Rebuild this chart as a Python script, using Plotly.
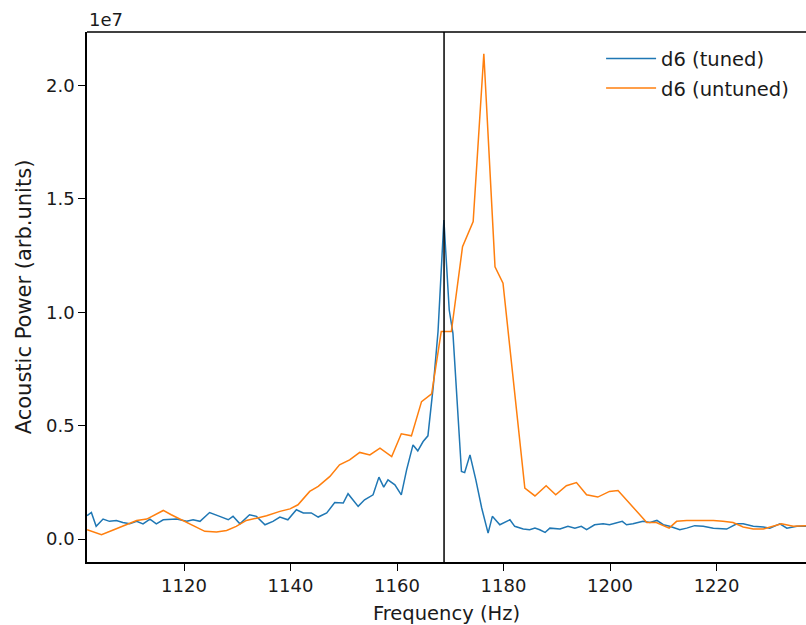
import plotly.graph_objects as go

# Frequency axis (Hz) and acoustic power for the tuned d6 sample
tuned_freq = [1101.8, 1102.6, 1103.5, 1104.8, 1106.0, 1107.3, 1108.5, 1109.8, 1111.1, 1112.3,
              1113.6, 1114.8, 1116.1, 1118.6, 1120.5, 1121.7, 1123.0, 1124.8, 1126.7, 1128.3,
              1129.2, 1130.5, 1132.3, 1133.6, 1135.2, 1136.7, 1138.0, 1139.5, 1141.1, 1142.4,
              1143.9, 1145.2, 1146.8, 1148.3, 1149.9, 1150.8, 1151.7, 1152.7, 1153.9, 1155.5,
              1156.6, 1157.5, 1158.3, 1159.6, 1160.8, 1161.8, 1163.0, 1163.9, 1164.9, 1165.8,
              1166.8, 1167.7, 1168.8, 1169.8, 1170.5, 1172.1, 1172.7, 1173.7, 1174.8, 1175.9,
              1177.1, 1177.9, 1179.3, 1181.2, 1182.1, 1183.7, 1184.9, 1185.9, 1186.8, 1187.8,
              1188.7, 1190.6, 1192.1, 1193.4, 1194.6, 1195.6, 1197.1, 1198.7, 1199.9, 1201.2,
              1202.3, 1203.1, 1204.3, 1206.2, 1207.5, 1208.8, 1210.0, 1211.2, 1213.1, 1214.4,
              1215.9, 1217.5, 1219.4, 1221.9, 1223.8, 1225.0, 1226.9, 1228.8, 1230.0, 1231.9,
              1233.2, 1235.1, 1236.8]
tuned_power = [1.03e6, 1.17e6, 0.56e6, 0.88e6, 0.78e6, 0.82e6, 0.73e6, 0.67e6, 0.78e6, 0.67e6,
               0.88e6, 0.67e6, 0.85e6, 0.88e6, 0.78e6, 0.85e6, 0.78e6, 1.17e6, 1.00e6, 0.85e6,
               1.00e6, 0.67e6, 1.07e6, 1.00e6, 0.63e6, 0.78e6, 0.97e6, 0.85e6, 1.29e6, 1.15e6,
               1.15e6, 0.97e6, 1.15e6, 1.61e6, 1.59e6, 2.00e6, 1.73e6, 1.44e6, 1.73e6, 1.95e6,
               2.73e6, 2.29e6, 2.61e6, 2.39e6, 1.95e6, 3.05e6, 4.15e6, 3.89e6, 4.30e6, 4.55e6,
               6.72e6, 9.15e6, 14.07e6, 10.10e6, 9.07e6, 2.98e6, 2.93e6, 3.71e6, 2.61e6, 1.37e6,
               0.26e6, 1.00e6, 0.63e6, 0.85e6, 0.56e6, 0.44e6, 0.41e6, 0.48e6, 0.41e6, 0.29e6,
               0.48e6, 0.44e6, 0.56e6, 0.48e6, 0.56e6, 0.41e6, 0.63e6, 0.67e6, 0.63e6, 0.70e6,
               0.78e6, 0.63e6, 0.67e6, 0.78e6, 0.73e6, 0.82e6, 0.63e6, 0.56e6, 0.41e6, 0.48e6,
               0.59e6, 0.56e6, 0.48e6, 0.44e6, 0.67e6, 0.67e6, 0.56e6, 0.53e6, 0.48e6, 0.67e6,
               0.48e6, 0.56e6, 0.56e6]

# Frequency axis (Hz) and acoustic power for the untuned d6 sample
untuned_freq = [1101.8, 1104.5, 1106.7, 1109.2, 1111.1, 1113.0, 1114.5, 1116.1, 1117.6, 1119.2,
                1121.1, 1123.9, 1126.1, 1128.0, 1129.8, 1131.7, 1133.6, 1135.5, 1138.0, 1139.9,
                1141.4, 1143.6, 1145.2, 1147.4, 1149.2, 1151.1, 1153.0, 1154.9, 1156.8, 1159.0,
                1160.8, 1162.7, 1164.6, 1166.5, 1168.3, 1170.2, 1172.3, 1174.3, 1176.3, 1178.4,
                1179.9, 1184.0, 1185.9, 1188.0, 1189.8, 1191.8, 1193.7, 1195.6, 1197.7, 1199.9,
                1201.5, 1203.1, 1205.0, 1206.9, 1208.7, 1211.1, 1212.5, 1214.4, 1216.9, 1219.4,
                1221.2, 1223.1, 1225.0, 1226.9, 1228.8, 1230.6, 1232.2, 1234.4, 1236.8]
untuned_power = [0.41e6, 0.19e6, 0.40e6, 0.63e6, 0.82e6, 0.88e6, 1.07e6, 1.26e6, 1.07e6, 0.88e6,
                 0.67e6, 0.34e6, 0.31e6, 0.38e6, 0.56e6, 0.82e6, 0.92e6, 1.03e6, 1.22e6, 1.33e6,
                 1.51e6, 2.10e6, 2.32e6, 2.76e6, 3.27e6, 3.49e6, 3.82e6, 3.71e6, 4.01e6, 3.64e6,
                 4.64e6, 4.55e6, 6.06e6, 6.40e6, 9.15e6, 9.15e6, 12.89e6, 14.00e6, 21.40e6, 12.00e6,
                 11.28e6, 2.25e6, 1.90e6, 2.35e6, 1.95e6, 2.35e6, 2.49e6, 1.95e6, 1.85e6, 2.10e6,
                 2.14e6, 1.73e6, 1.22e6, 0.73e6, 0.73e6, 0.48e6, 0.78e6, 0.82e6, 0.82e6, 0.82e6,
                 0.78e6, 0.73e6, 0.53e6, 0.44e6, 0.44e6, 0.56e6, 0.67e6, 0.56e6, 0.59e6]

# Marker frequency of the tuned resonance
resonance_freq = 1168.83

x_ticks = [1120, 1140, 1160, 1180, 1200, 1220]
y_ticks = [0.0, 0.5e7, 1.0e7, 1.5e7, 2.0e7]
y_tick_labels = ["0.0", "0.5", "1.0", "1.5", "2.0"]

FONT = "DejaVu Sans"
TICK_FS = 18
LABEL_FS = 19.5
YLABEL_FS = 21
INK = "#1a1a1a"

fig = go.Figure()
fig.add_trace(go.Scatter(x=tuned_freq, y=tuned_power, mode="lines", name="d6 (tuned)",
                         legendgroup="a", line=dict(color="#1f77b4", width=1.5)))
fig.add_trace(go.Scatter(x=untuned_freq, y=untuned_power, mode="lines", name="d6 (untuned)",
                         legendgroup="b", line=dict(color="#ff7f0e", width=1.5)))

fig.add_vline(x=resonance_freq, line=dict(color="black", width=1.5))

# top spine
fig.add_shape(type="line", xref="paper", yref="paper", x0=0, x1=1, y0=1, y1=1,
              line=dict(color="black", width=1.5))

fig.add_annotation(text="1e7", xref="paper", yref="paper", x=0, y=1, xanchor="left",
                   yanchor="bottom", showarrow=False, yshift=0,
                   font=dict(family=FONT, size=TICK_FS, color=INK))

fig.update_layout(
    width=806, height=625,
    margin=dict(l=87, r=0, t=32, b=63),
    plot_bgcolor="white", paper_bgcolor="white",
    font=dict(family=FONT, size=TICK_FS, color=INK),
    showlegend=True,
    legend=dict(x=0.715, y=0.986, xanchor="left", yanchor="top", bgcolor="rgba(0,0,0,0)",
                borderwidth=0, tracegroupgap=1, itemwidth=50,
                font=dict(family=FONT, size=LABEL_FS, color=INK)),
    xaxis=dict(range=[1101.78, 1236.8], tickvals=x_ticks, ticks="outside", ticklen=7,
               tickwidth=1.2, tickcolor="black", showline=True, linecolor="black", linewidth=1.5,
               showgrid=False, zeroline=False, tickfont=dict(size=TICK_FS),
               title=dict(text="Frequency (Hz)", standoff=12, font=dict(size=LABEL_FS))),
    yaxis=dict(range=[-0.1013e7, 2.236e7], tickvals=y_ticks, ticktext=y_tick_labels,
               ticks="outside", ticklen=7, tickwidth=1.2, tickcolor="black", showline=True,
               linecolor="black", linewidth=1.5, showgrid=False, zeroline=False,
               tickfont=dict(size=TICK_FS),
               title=dict(text="Acoustic Power (arb.units)", standoff=9,
                          font=dict(size=YLABEL_FS))),
)

fig.write_html("out.html")
